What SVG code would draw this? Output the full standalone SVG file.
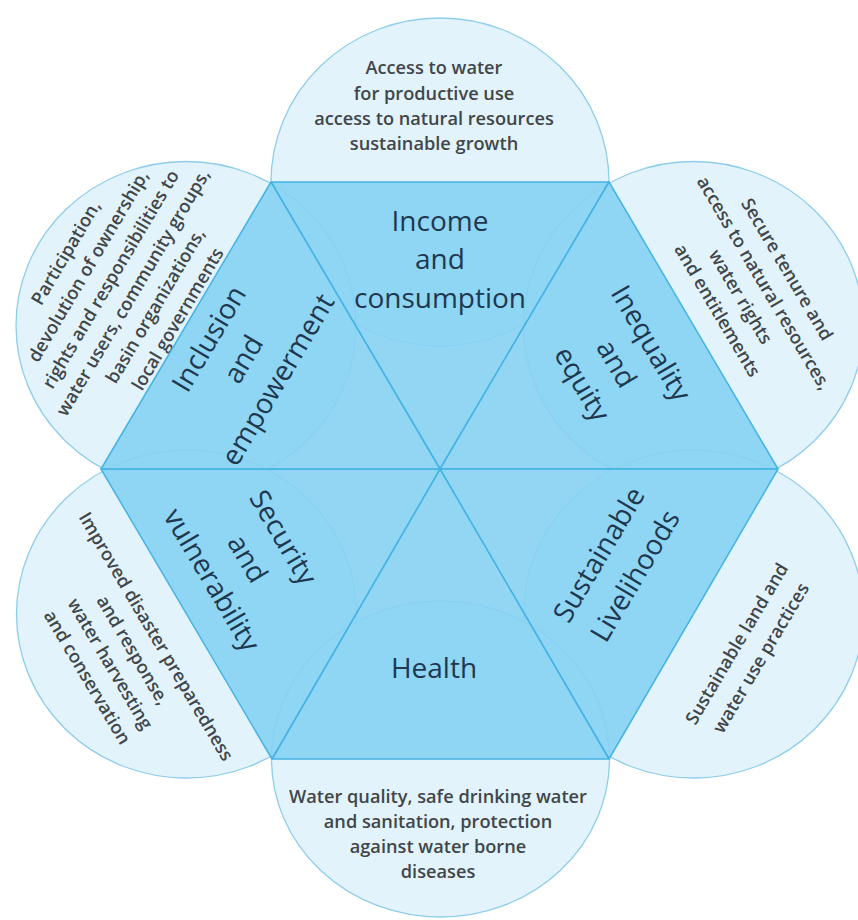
<svg xmlns="http://www.w3.org/2000/svg" width="858" height="920" viewBox="0 0 858 920">
<defs>
<style>
.circ{fill:#e2f3fb;stroke:#8fcdea;stroke-width:1.3}
.tri{fill:#86d1f3;fill-opacity:0.9;stroke:#45b3e5;stroke-width:1.5;stroke-linejoin:round}
.ct{font-family:"Open Sans",Lato,"Liberation Sans",sans-serif;font-size:18.2px;font-weight:600;fill:#41464a;text-anchor:middle}
.mt{font-family:"Open Sans",Lato,"Liberation Sans",sans-serif;font-size:28px;fill:#1e3850;text-anchor:middle}
</style>
</defs>
<rect width="858" height="920" fill="#ffffff"/>

<g id="circle-top">
<ellipse class="circ" cx="440" cy="182" rx="169" ry="164"/>
<text class="ct" x="434" y="74">Access to water</text>
<text class="ct" x="434" y="100">for productive use</text>
<text class="ct" x="434" y="125">access to natural resources</text>
<text class="ct" x="434" y="150">sustainable growth</text>
</g>

<g id="circle-upper-left">
<ellipse class="circ" cx="186" cy="325.5" rx="170" ry="164"/>
<g transform="translate(122,286) rotate(-59.4)">
<text class="ct" x="0" y="-59">Participation,</text>
<text class="ct" x="0" y="-33">devolution of ownership,</text>
<text class="ct" x="0" y="-7">rights and responsibilities to</text>
<text class="ct" x="0" y="19">water users, community groups,</text>
<text class="ct" x="0" y="45">basin organizations,</text>
<text class="ct" x="0" y="71">local governments</text>
</g>
</g>

<g id="circle-upper-right">
<ellipse class="circ" cx="693.5" cy="325.5" rx="170" ry="164"/>
<g transform="translate(752,290) rotate(59.4)">
<text class="ct" x="0" y="-34.5">Secure tenure and</text>
<text class="ct" x="0" y="-7.5">access to natural resources,</text>
<text class="ct" x="0" y="19.5">water rights</text>
<text class="ct" x="0" y="46.5">and entitlements</text>
</g>
</g>

<g id="circle-lower-left">
<ellipse class="circ" cx="186.5" cy="614" rx="170" ry="164"/>
<g transform="translate(121.5,657) rotate(59.4)">
<text class="ct" x="0" y="-34">Improved disaster preparedness</text>
<text class="ct" x="0" y="-7">and response,</text>
<text class="ct" x="0" y="19.5">water harvesting</text>
<text class="ct" x="0" y="46">and conservation</text>
</g>
</g>

<g id="circle-lower-right">
<ellipse class="circ" cx="693.5" cy="614" rx="170" ry="164"/>
<g transform="translate(749,651) rotate(-59.4)">
<text class="ct" x="0" y="-8">Sustainable land and</text>
<text class="ct" x="0" y="20">water use practices</text>
</g>
</g>

<g id="circle-bottom">
<ellipse class="circ" cx="440.5" cy="759" rx="169" ry="158"/>
<text class="ct" x="438" y="803">Water quality, safe drinking water</text>
<text class="ct" x="438" y="828">and sanitation, protection</text>
<text class="ct" x="438" y="853">against water borne</text>
<text class="ct" x="438" y="878">diseases</text>
</g>

<g id="tri-income">
<polygon class="tri" points="271,182 609,182 440,469"/>
<text class="mt" x="440" y="231">Income</text>
<text class="mt" x="440" y="269">and</text>
<text class="mt" x="440" y="308">consumption</text>
</g>

<g id="tri-inequality">
<polygon class="tri" points="609,182 778,469 440,469"/>
<g transform="translate(616,364) rotate(59.4)">
<text class="mt" x="0" y="-31">Inequality</text>
<text class="mt" x="0" y="9">and</text>
<text class="mt" x="0" y="49">equity</text>
</g>
</g>

<g id="tri-livelihoods">
<polygon class="tri" points="778,469 609,759 440,469"/>
<g transform="translate(617.5,565.5) rotate(-59.4)">
<text class="mt" x="0" y="-12">Sustainable</text>
<text class="mt" x="0" y="30">Livelihoods</text>
</g>
</g>

<g id="tri-health">
<polygon class="tri" points="609,759 272,759 440,469"/>
<text class="mt" x="434" y="678">Health</text>
</g>

<g id="tri-security">
<polygon class="tri" points="272,759 101,469 440,469"/>
<g transform="translate(247,559) rotate(59.4)">
<text class="mt" x="0" y="-32.5">Security</text>
<text class="mt" x="0" y="9">and</text>
<text class="mt" x="0" y="50.5">vulnerability</text>
</g>
</g>

<g id="tri-inclusion">
<polygon class="tri" points="101,469 271,182 440,469"/>
<g transform="translate(243,359) rotate(-59.4)">
<text class="mt" x="0" y="-30">Inclusion</text>
<text class="mt" x="0" y="10">and</text>
<text class="mt" x="0" y="50">empowerment</text>
</g>
</g>

<g id="connectors"/>
</svg>
